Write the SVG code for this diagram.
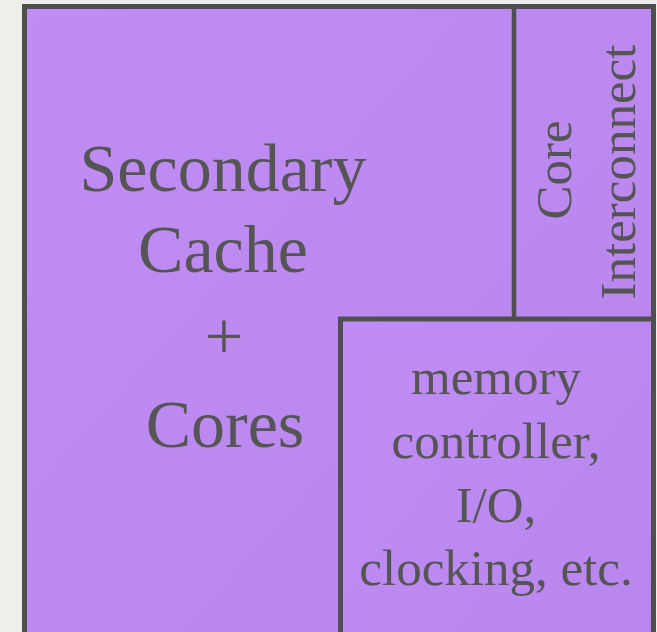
<svg xmlns="http://www.w3.org/2000/svg" width="657" height="632" viewBox="0 0 657 632">
  <defs>
    <linearGradient id="chipFill" x1="0" y1="0" x2="1" y2="1">
      <stop offset="0" stop-color="#c08df4"/>
      <stop offset="1" stop-color="#b785ec"/>
    </linearGradient>
  </defs>
  <style>
    .block { fill: url(#chipFill); stroke: #4f4f4f; stroke-width: 5; }
    .divider { stroke: #4f4f4f; stroke-width: 4.5; fill: none; }
    .big { font-family: "Liberation Serif", "Times New Roman", serif; font-size: 68px; fill: #555555; text-anchor: middle; }
    .small { font-family: "Liberation Serif", "Times New Roman", serif; font-size: 51px; fill: #555555; text-anchor: middle; }
  </style>

  <!-- page background -->
  <rect x="0" y="0" width="657" height="632" fill="#efeeea"/>

  <!-- die outline: secondary cache + cores -->
  <g id="cache-cores">
    <rect class="block" x="24.5" y="6.5" width="629" height="700"/>
    <text class="big" x="223" y="191">Secondary</text>
    <text class="big" x="223" y="272">Cache</text>
    <text class="big" x="224" y="359">+</text>
    <text class="big" x="225" y="447">Cores</text>
  </g>

  <!-- separating lines between regions -->
  <g id="connectors">
    <line class="divider" x1="514" y1="8" x2="514" y2="319"/>
  </g>

  <!-- core interconnect strip -->
  <g id="core-interconnect">
    <text class="small" transform="translate(571 170) rotate(-90)">Core</text>
    <text class="small" transform="translate(635 172) rotate(-90)">Interconnect</text>
  </g>

  <!-- memory controller / IO block -->
  <g id="memory-io">
    <rect class="block" x="340.5" y="319" width="313" height="400"/>
    <text class="small" x="496" y="394">memory</text>
    <text class="small" x="496" y="458">controller,</text>
    <text class="small" x="496" y="522">I/O,</text>
    <text class="small" x="496" y="585">clocking, etc.</text>
  </g>
</svg>
